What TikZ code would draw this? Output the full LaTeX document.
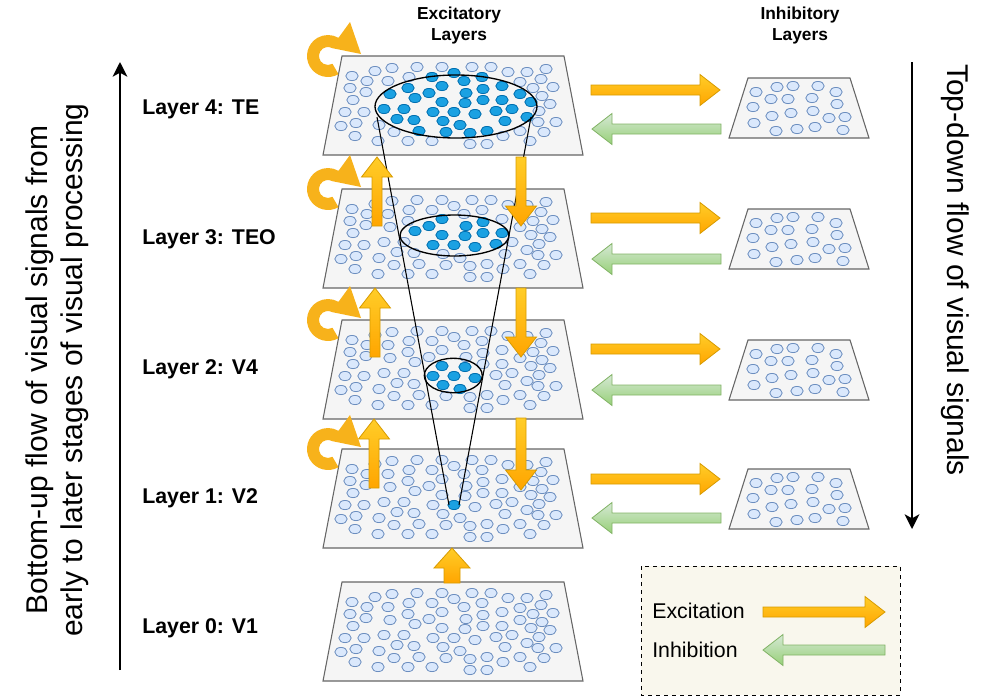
\documentclass[tikz,border=0pt]{standalone}
\usepackage{fontspec}
\setmainfont{Liberation Sans}
\usetikzlibrary{arrows.meta}

\definecolor{planefill}{HTML}{F5F5F5}
\definecolor{planeline}{HTML}{666666}
\definecolor{dotfill}{HTML}{DAE8FC}
\definecolor{dotline}{HTML}{6C8EBF}
\definecolor{hifill}{HTML}{1BA1E2}
\definecolor{hiline}{HTML}{006EAF}
\definecolor{exctop}{HTML}{FFCD28}
\definecolor{excbot}{HTML}{FFA500}
\definecolor{excline}{HTML}{D79B00}
\definecolor{inhtop}{HTML}{D5E8D4}
\definecolor{inhbot}{HTML}{97D077}
\definecolor{inhline}{HTML}{82B366}
\definecolor{curlcol}{HTML}{F7B21B}
\definecolor{legfill}{HTML}{F9F7ED}

% dot pattern of one excitatory layer (dx from centre, dy from top edge)
\newcommand{\bigdots}{-78/15,-61/12,-36/11,-11/11,19/11,38/11,1/17,55/16,74/16,93/13,
-101/20,-86/25,-65/25,-44/21,-21/21,11/25,29/21,88/23,
-103/32,-87/36,-63/38,-45/32,-24/37,-11/30,13/37,30/33,49/30,67/26,80/32,100/31,
-100/44,-38/42,-11/46,12/47,30/44,49/44,67/38,89/40,78/46,97/48,
-108/56,-89/56,-69/53,-49/53,-20/56,1/56,22/58,43/55,59/53,86/55,
-112/70,-97/67,-74/69,-56/63,-39/64,-10/65,7/69,52/65,74/61,85/66,103/66,
-98/80,-59/76,-34/75,-7/76,17/77,34/75,50/80,67/75,91/76,
-75/85,-45/85,-21/85,17/88,34/88,77/85}
% dot pattern of one inhibitory layer
\newcommand{\smalldots}{-43/14,-22/9,-6/8,19/8,37/14,-28/21,-11/21,13/20,-46/29,38/26,
-27/38,-8/35,14/33,30/40,46/39,-45/45,-23/53,-2/51,16/49,44/52}

\tikzset{
  plane/.style={fill=planefill, draw=planeline, line width=0.8pt},
  dot/.style={fill=dotfill, draw=dotline, line width=0.6pt},
  hidot/.style={fill=hifill, draw=hiline, line width=0.6pt},
  focus/.style={draw=black, line width=1pt},
  excit/.style={top color=exctop, bottom color=excbot, draw=excline, line width=0.6pt},
  inhib/.style={top color=inhtop, bottom color=inhbot, draw=inhline, line width=0.6pt},
  curl/.style={fill=curlcol},
  flow/.style={line width=1.6pt, -{Stealth[length=11pt,width=11pt,inset=3pt]}},
  cone/.style={draw=black, line width=0.8pt},
  lbl/.style={font=\fontsize{16}{19}\selectfont\bfseries, anchor=west, inner sep=0pt},
  hdr/.style={font=\fontsize{13}{15.75}\selectfont\bfseries, align=center, inner sep=0pt},
  side/.style={font=\fontsize{22.5}{26.5}\selectfont, align=center, inner sep=0pt},
  legtxt/.style={font=\fontsize{16}{19}\selectfont, anchor=west, inner sep=0pt},
  legend/.style={fill=legfill, draw=black, dashed, line width=0.5pt}
}

% excitatory layer: top y, focus centre dx, dy, radii
\newcommand{\exclayer}[5]{%
  \path[plane] (342,#1) -- (564,#1) -- (583,#1+99) -- (323,#1+99) -- cycle;
  \foreach \dx/\dy in \bigdots {
    \pgfmathsetmacro\qa{(\dx-(#2))/(#4)}
    \pgfmathsetmacro\qb{(\dy-(#3))/(#5)}
    \pgfmathtruncatemacro\isin{(\qa)*(\qa)+(\qb)*(\qb)<1}
    \ifnum\isin=1
      \path[hidot] (453+\dx,#1+\dy) ellipse [x radius=6.2, y radius=4.6];
    \else
      \path[dot] (453+\dx,#1+\dy) ellipse [x radius=6.2, y radius=4.6];
    \fi
  }}
% inhibitory layer: top y
\newcommand{\inhlayer}[1]{%
  \path[plane] (748,#1) -- (850,#1) -- (869,#1+60) -- (729,#1+60) -- cycle;
  \foreach \dx/\dy in \smalldots {
    \path[dot] (799+\dx,#1+\dy) ellipse [x radius=6.2, y radius=4.6];
  }}
% block arrows
\newcommand{\blockH}[4]{%
  \pgfmathsetmacro\hbase{#3+(#2<#3 ? -20 : 20)}
  \path[#1] (#2,#4-5) -- (\hbase,#4-5) -- (\hbase,#4-15.5) -- (#3,#4)
    -- (\hbase,#4+15.5) -- (\hbase,#4+5) -- (#2,#4+5) -- cycle;}
\newcommand{\blockV}[6]{%
  \pgfmathsetmacro\hbase{#4+(#3<#4 ? -20 : 20)}
  \path[#1] (#2-#5,#3) -- (#2-#5,\hbase) -- (#2-#6,\hbase) -- (#2,#4)
    -- (#2+#6,\hbase) -- (#2+#5,\hbase) -- (#2+#5,#3) -- cycle;}
\newcommand{\curlarrow}[2]{%
  \path[curl] (#1,#2) ++(60:21) arc[start angle=60, end angle=300, radius=21]
    -- (#1+22,#2-34) -- (#1+33,#2-2) -- (#1+4.5,#2-7.8)
    arc[start angle=300, end angle=60, radius=9] -- cycle;}

\begin{document}
\begin{tikzpicture}[x=0.75pt, y=-0.75pt]
\useasboundingbox (0,0) rectangle (997,697);

\exclayer{56}{3}{50}{80}{34}
\exclayer{189}{1}{46}{51}{18}
\exclayer{320}{1}{56}{36}{16}
\exclayer{449}{1}{56}{4}{4}
\exclayer{582}{0}{-30}{5}{5}

\inhlayer{78}
\inhlayer{209}
\inhlayer{340}
\inhlayer{469}

\path[focus] (456,106.5) ellipse [x radius=81, y radius=31.5];
\path[focus] (454.5,235.5) ellipse [x radius=54.5, y radius=20.5];
\path[focus] (453.3,375.5) ellipse [x radius=29, y radius=17.2];

\coordinate (coneL) at (377,117);
\coordinate (coneR) at (531,117);
\coordinate (apexL) at (449,505);
\coordinate (apexR) at (459,505);
\draw[cone] (coneL) -- (apexL);
\draw[cone] (coneR) -- (apexR);

\blockV{excit}{452}{583}{548}{8}{18}
\blockV{excit}{374}{488}{419}{5}{15.5}
\blockV{excit}{375}{357}{288}{5}{15.5}
\blockV{excit}{377}{226}{157}{5}{15.5}
\blockV{excit}{521}{157}{226}{5}{15.5}
\blockV{excit}{521}{288}{357}{5}{15.5}
\blockV{excit}{521}{418}{490}{5}{15.5}

\blockH{excit}{591}{720}{90}
\blockH{inhib}{721}{592}{129}
\blockH{excit}{591}{720}{218}
\blockH{inhib}{721}{592}{259}
\blockH{excit}{591}{720}{349}
\blockH{inhib}{721}{592}{390}
\blockH{excit}{591}{720}{479}
\blockH{inhib}{721}{592}{518}

\curlarrow{328}{56}
\curlarrow{328}{189}
\curlarrow{328}{320}
\curlarrow{328}{449}

\node[hdr] (hdrExc) at (459,26) {Excitatory\\Layers};
\node[hdr] (hdrInh) at (800,26) {Inhibitory\\Layers};

\node[lbl] (lblL4) at (142,109) {Layer 4: TE};
\node[lbl] (lblL3) at (142,239) {Layer 3: TEO};
\node[lbl] (lblL2) at (142,369) {Layer 2: V4};
\node[lbl] (lblL1) at (142,498) {Layer 1: V2};
\node[lbl] (lblL0) at (142,628) {Layer 0: V1};

\coordinate (upS) at (120,670);
\coordinate (upE) at (120,62);
\draw[flow] (upS) -- (upE);
\coordinate (downS) at (912,62);
\coordinate (downE) at (912,529);
\draw[flow] (downS) -- (downE);

\node[side, rotate=90] (txtUp) at (57,370) {Bottom-up flow of visual signals from\\early to later stages of visual processing};
\node[side, rotate=-90] (txtDown) at (955,270) {Top-down flow of visual signals};

\path[legend] (641,566) rectangle (900,695);
\node[legtxt] (legExc) at (652,611) {Excitation};
\node[legtxt] (legInh) at (652,650) {Inhibition};
\blockH{excit}{763}{885}{612}
\blockH{inhib}{885}{763}{650}
\end{tikzpicture}
\end{document}
